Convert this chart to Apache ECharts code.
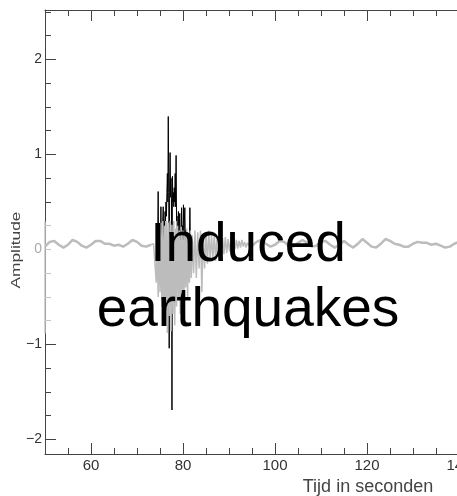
<!DOCTYPE html>
<html>
<head>
<meta charset="utf-8">
<script src="https://cdn.jsdelivr.net/npm/echarts/dist/echarts.min.js"></script>
<style>html,body{margin:0;padding:0;background:#fff;}#c{width:457px;height:496px;}</style>
</head>
<body>
<div id="c"></div>
<script>
// ---- data ----
var xMajorTicks = [60, 80, 100, 120, 140];
var xMinorTicks = [50,55,60,65,70,75,80,85,90,95,100,105,110,115,120,125,130,135,140];
var yMajorTicks = [-2, -1, 1, 2];
var yMinorTicks = [-2,-1.75,-1.5,-1.25,-1,0.5,0.75,1,1.25,1.5,1.75,2,2.25,2.5];
var yGrayTicks = [0.25, 0, -0.25, -0.5, -0.75];
var yGrayLabels = [0];

// black trace (burst), sampled every 0.1 s from 74.3 s
var blackStart = 74.3, blackStep = 0.1;
var blackValues = [
  0.02,-0.05,0.1,0.61,0.0,0.15,-0.1,
  0.2,0.05,0.45,-0.1,0.25,0.1,0.3,0.45,0.05,0.3,
  0.2,0.4,0.3,0.5,0.35,0.6,0.80,0.5,1.40,0.6,
  -1.04,0.7,1.02,0.55,0.75,0.5,-1.69,0.77,0.5,0.6,
  0.45,0.65,0.5,0.8,0.45,0.99,0.3,0.35,0.1,0.25,
  0.40,0.15,0.25,0.38,0.1,0.2,0.15,0.44,0.05,0.25,
  0.15,0.47,0.1,0.3,0.44,0.1,0.2,0.05,0.15,0.05,
  0.1,0.0,0.08,0.02,0.1,0.44,0.05,0.0
];

// gray trace: quiet background before and after the event
var grayPreStart = 50, grayPreStep = 1;
var grayPreValues = [0.03,0.08,0.09,0.05,0.02,0.05,0.10,0.08,0.04,0.02,0.05,0.09,0.09,0.06,0.06,0.04,0.05,0.03,0.06,0.10,0.08,0.04,0.03,0.05];
var grayPostStart = 95, grayPostStep = 1;
var grayPostValues = [0.04,0.08,0.10,0.06,0.03,0.05,0.09,0.08,0.04,0.03,0.07,0.10,0.07,0.03,0.04,0.08,0.09,0.05,0.02,0.05,0.09,0.05,0.02,0.06,0.11,0.07,0.03,0.02,0.06,0.11,0.09,0.06,0.05,0.03,0.03,0.06,0.08,0.07,0.07,0.05,0.06,0.04,0.02,0.03,0.06,0.08];
// gray trace: event burst and coda
var grayBurstStart = 73.6, grayBurstStep = 0.2;
var grayBurstValues = [
  0.06,0.04,
  0.05,-0.35,0.2,-0.5,0.25,-0.45,0.28,-0.6,0.3,-0.7,
  0.25,-0.62,0.3,-0.88,0.28,-0.7,0.3,-0.86,0.26,-0.68,
  0.3,-0.8,0.22,-0.6,0.25,-0.5,0.2,-0.68,0.24,-0.45,
  0.2,-0.55,0.18,-0.4,0.22,-0.5,0.15,-0.35,0.2,-0.3,0.15
];
var grayCodaStart = 82.3, grayCodaStep = 0.3;
var grayCodaValues = [
  -0.25,0.2,-0.3,0.18,-0.2,0.2,-0.45,0.17,-0.2,0.18,
  -0.15,0.2,-0.12,0.15,-0.1,0.16,-0.12,0.13,-0.08,0.14,
  -0.06,0.12,-0.05,0.13,-0.04,0.11,-0.02,0.1,-0.01,0.12,
  0.0,0.1,0.01,0.09,0.02,0.1,0.03,0.08,0.02,0.07,0.04,0.08,0.05
];

var xTitle = 'Tijd in seconden';
var yTitle = 'Amplitude';
var overlayText = 'Induced\nearthquakes';

// ---- build ----
function seg(start, step, vals) {
  return vals.map(function (v, i) { return [Math.round((start + i * step) * 1000) / 1000, v]; });
}
var blackData = seg(blackStart, blackStep, blackValues);
var grayPre = seg(grayPreStart, grayPreStep, grayPreValues);
var grayPost = seg(grayPostStart, grayPostStep, grayPostValues);
var grayBgData = grayPre.concat([[null, null]]).concat(grayPost);
var grayEventData = [grayPre[grayPre.length - 1]]
  .concat(seg(grayBurstStart, grayBurstStep, grayBurstValues))
  .concat(seg(grayCodaStart, grayCodaStep, grayCodaValues))
  .concat([grayPost[0]]);

var narrow = "'Liberation Sans Narrow', 'Liberation Sans', Arial, sans-serif";
var axisColor = '#444';
var grayAxisColor = '#c6c6c6';
var Y_MIN = -2.153, Y_MAX = 2.521;
var X_MIN = 50, X_MAX = 140;
function fmt(v) { return String(v).replace('-', '\u2212'); }

var chart = echarts.init(document.getElementById('c'), null, { renderer: 'canvas' });
chart.setOption({
  animation: false,
  backgroundColor: '#fff',
  grid: [
    { left: 45, top: 10, right: -2, bottom: 42, outerBoundsMode: 'none', containLabel: false },
    { left: 45, top: 222, right: -2, bottom: 163, outerBoundsMode: 'none', containLabel: false }
  ],
  xAxis: [
    { gridIndex: 0, type: 'value', position: 'bottom', min: X_MIN, max: X_MAX,
      axisLine: { onZero: false, lineStyle: { color: axisColor, width: 1 } },
      axisTick: { inside: true, length: 11, customValues: xMajorTicks, lineStyle: { color: axisColor } },
      axisLabel: { customValues: xMajorTicks, fontFamily: narrow, fontSize: 15, color: '#333', margin: 4, hideOverlap: false },
      splitLine: { show: false } },
    { gridIndex: 0, type: 'value', position: 'bottom', min: X_MIN, max: X_MAX,
      axisLine: { show: false, onZero: false },
      axisTick: { inside: true, length: 6, customValues: xMinorTicks, lineStyle: { color: axisColor } },
      axisLabel: { show: false }, splitLine: { show: false } },
    { gridIndex: 0, type: 'value', position: 'top', min: X_MIN, max: X_MAX,
      axisLine: { onZero: false, lineStyle: { color: axisColor, width: 1 } },
      axisTick: { inside: true, length: 11, customValues: xMajorTicks, lineStyle: { color: axisColor } },
      axisLabel: { show: false }, splitLine: { show: false } },
    { gridIndex: 0, type: 'value', position: 'top', min: X_MIN, max: X_MAX,
      axisLine: { show: false, onZero: false },
      axisTick: { inside: true, length: 6, customValues: xMinorTicks, lineStyle: { color: axisColor } },
      axisLabel: { show: false }, splitLine: { show: false } },
    { gridIndex: 1, type: 'value', min: X_MIN, max: X_MAX, show: false, axisLine: { onZero: false } }
  ],
  yAxis: [
    { gridIndex: 0, type: 'value', position: 'left', min: Y_MIN, max: Y_MAX,
      axisLine: { show: true, onZero: false, lineStyle: { color: axisColor, width: 1 } },
      axisTick: { show: true, inside: true, length: 11, customValues: yMajorTicks, lineStyle: { color: axisColor } },
      axisLabel: { customValues: yMajorTicks, formatter: fmt, fontFamily: narrow, fontSize: 14, color: '#333', margin: 3 },
      splitLine: { show: false } },
    { gridIndex: 0, type: 'value', position: 'left', min: Y_MIN, max: Y_MAX,
      axisLine: { show: false, onZero: false },
      axisTick: { show: true, inside: true, length: 6, customValues: yMinorTicks, lineStyle: { color: axisColor } },
      axisLabel: { show: false }, splitLine: { show: false } },
    { gridIndex: 1, type: 'value', position: 'left', min: -0.879, max: 0.289, z: 5,
      axisLine: { show: true, onZero: false, lineStyle: { color: grayAxisColor, width: 1.5 } },
      axisTick: { show: true, inside: true, length: 6, customValues: yGrayTicks, lineStyle: { color: grayAxisColor } },
      axisLabel: { customValues: yGrayLabels, formatter: fmt, fontFamily: narrow, fontSize: 14, color: '#aaa', margin: 3 },
      splitLine: { show: false } }
  ],
  series: [
    { type: 'line', xAxisIndex: 0, yAxisIndex: 0, data: blackData, showSymbol: false, symbol: 'none',
      lineStyle: { color: '#000', width: 1 }, z: 2 },
    { type: 'line', xAxisIndex: 0, yAxisIndex: 0, data: grayBgData, showSymbol: false, symbol: 'none',
      connectNulls: false, lineStyle: { color: '#bcbcbc', width: 2.5 }, z: 3 },
    { type: 'line', xAxisIndex: 0, yAxisIndex: 0, data: grayEventData, showSymbol: false, symbol: 'none',
      lineStyle: { color: '#bcbcbc', width: 1.5 }, z: 3 }
  ],
  graphic: [
    { type: 'text', x: 16, y: 250, rotation: Math.PI / 2, scaleX: 1.33, z: 10,
      style: { text: yTitle, font: "13px 'Liberation Sans', Arial, sans-serif", fill: '#444', textAlign: 'center', textVerticalAlign: 'middle' } },
    { type: 'text', x: 368, y: 487, z: 10,
      style: { text: xTitle, font: "18px 'Liberation Sans', Arial, sans-serif", fill: '#444', textAlign: 'center', textVerticalAlign: 'middle' } },
    { type: 'text', x: 248, y: 278, z: 100,
      style: { text: overlayText, font: "55px 'Liberation Sans', Arial, sans-serif", fill: '#000', textAlign: 'center', textVerticalAlign: 'middle', lineHeight: 65 } }
  ]
});
</script>
</body>
</html>
